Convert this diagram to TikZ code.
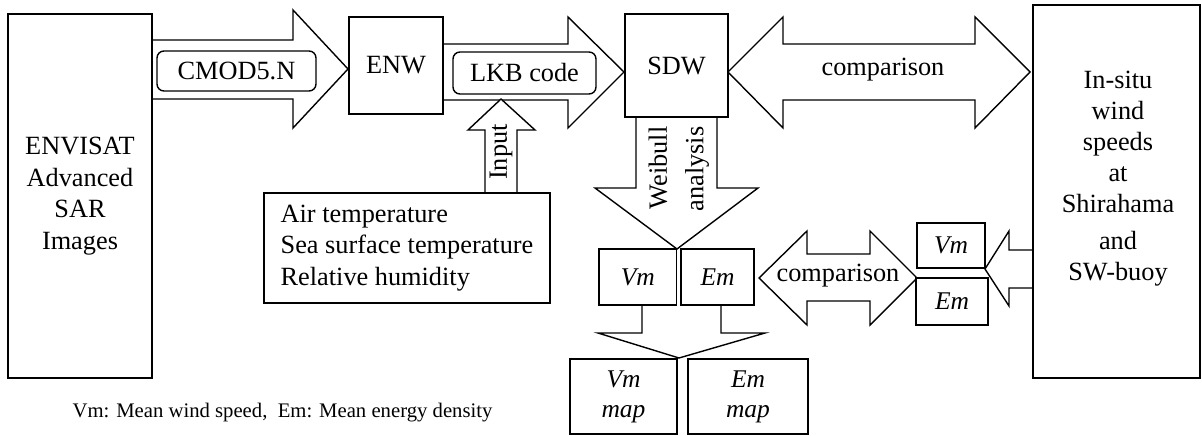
\documentclass[tikz,border=0pt]{standalone}
\usepackage{fontspec}
\setmainfont{Liberation Serif}
\begin{document}
\begin{tikzpicture}[x=1pt,y=-1pt,line width=1.4pt,line join=miter,
  box/.style={draw,fill=white,inner sep=0pt,align=center,font=\fontsize{26.3}{31.5}\selectfont},
  rbox/.style={box,rounded corners=7pt},
  ibox/.style={box,font=\fontsize{25.5}{30}\selectfont\itshape},
  lbl/.style={inner sep=0pt,align=center,font=\fontsize{26.3}{31}\selectfont},
  blockarrow/.style={draw,fill=white}]
\useasboundingbox (0,0) rectangle (1202,436);
% block arrows
\draw[blockarrow] (152,40) -- (293,40) -- (293,10) -- (348,69) -- (293,128) -- (293,99) -- (152,99);
\draw[blockarrow] (443,44) -- (568,44) -- (568,17) -- (624,72) -- (568,128) -- (568,100) -- (443,100);
\draw[blockarrow] (728,72) -- (783,17) -- (783,44) -- (975,44) -- (975,17) -- (1030,72) -- (975,128) -- (975,100) -- (783,100) -- (783,128) -- cycle;
\draw[blockarrow] (485,193) -- (485,130) -- (468,130) -- (501,99) -- (535,130) -- (517,130) -- (517,193);
\draw[blockarrow] (636,117) -- (636,188) -- (595,188) -- (677,249) -- (758,188) -- (717,188) -- (717,117);
\draw[blockarrow] (642,305) -- (642,333) -- (598,333) -- (679,358) -- (765,333) -- (721,333) -- (721,305);
\draw[blockarrow] (759,278) -- (807,231) -- (807,254) -- (870,254) -- (870,231) -- (917,278) -- (870,325) -- (870,301) -- (807,301) -- (807,325) -- cycle;
\draw[blockarrow] (1033,250) -- (1009,250) -- (1009,231) -- (985,269) -- (1009,306) -- (1009,288) -- (1033,288);
% boxes
\node[box,minimum width=144pt,minimum height=364pt] (env) at (80,196) {ENVISAT\\Advanced\\SAR\\Images};
\node[rbox,minimum width=159pt,minimum height=40pt] (cmod) at (236.5,71) {CMOD5.N};
\node[box,minimum width=94pt,minimum height=97pt] (enw) at (396,65.5) {ENW};
\node[rbox,minimum width=143pt,minimum height=42pt] (lkb) at (524.5,73) {LKB code};
\node[box,minimum width=103pt,minimum height=103pt] (sdw) at (676.5,65.5) {SDW};
\node[box,align=left,minimum width=286pt,minimum height=110pt] (air) at (407,248) {Air temperature\\Sea surface temperature\\Relative humidity};
\node[box,minimum width=167pt,minimum height=373pt] (insitu) at (1116.5,191.5) {};
\node[lbl] (insitutext) at (1118,179) {In-situ\\wind\\speeds\\at\\Shirahama\\[6pt]and\\SW-buoy};
\node[ibox,minimum width=77.5pt,minimum height=56pt] (vm) at (637.75,277) {Vm};
\node[ibox,minimum width=73pt,minimum height=56pt] (em) at (717.5,277) {Em};
\node[ibox,minimum width=107pt,minimum height=75pt] (vmmap) at (623.5,396.5) {Vm\\map};
\node[ibox,minimum width=120pt,minimum height=75pt] (emmap) at (748,396.5) {Em\\map};
\node[ibox,minimum width=68pt,minimum height=45pt] (svm) at (951,245.5) {Vm};
\node[ibox,minimum width=72pt,minimum height=47pt] (sem) at (952,301.5) {Em};
% labels
\node[lbl,rotate=90] (input) at (501,152) {Input};
\node[lbl,rotate=90] (weib) at (658,168) {Weibull};
\node[lbl,rotate=90] (anal) at (697,169) {analysis};
\node[lbl] (cmp1) at (883,70) {comparison};
\node[lbl] (cmp2) at (838,276) {comparison};
\node[inner sep=0pt,font=\fontsize{20.7}{24}\selectfont] (foot) at (282.5,413) {Vm: Mean wind speed,\ \ Em: Mean energy density};
\end{tikzpicture}
\end{document}
